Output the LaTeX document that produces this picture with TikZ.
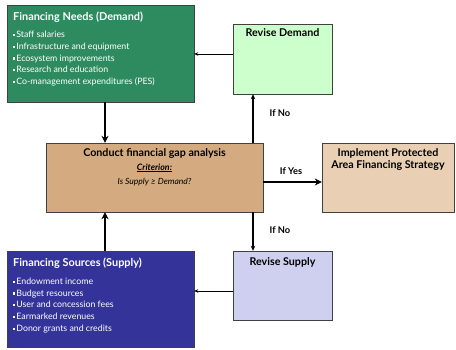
\documentclass[tikz,border=0pt]{standalone}
\usepackage{fontspec}
\setmainfont{Lato}
\usetikzlibrary{arrows.meta,calc}
\definecolor{needsgreen}{HTML}{2E8B5F}
\definecolor{revdgreen}{HTML}{CCFFCC}
\definecolor{gaptan}{HTML}{D4AB80}
\definecolor{impltan}{HTML}{E9CFB4}
\definecolor{supblue}{HTML}{333399}
\definecolor{revsblue}{HTML}{CFCFEF}
\definecolor{edgegray}{HTML}{404040}
\newcommand{\bul}{\rule[1.6pt]{2.2pt}{2.2pt}\hspace{1pt}}
\tikzset{
  box/.style={draw=edgegray, line width=0.9pt, inner sep=0pt},
  ttl/.style={font=\bfseries\fontsize{10.7}{12}\selectfont, anchor=base, inner sep=0pt},
  bigttl/.style={font=\bfseries\fontsize{10.9}{12}\selectfont, text=white, anchor=base west, inner sep=0pt},
  item/.style={font=\fontsize{8.8}{10}\selectfont, text=white, anchor=base west, inner sep=0pt},
  thin/.style={line width=0.9pt, -{Stealth[length=4pt,width=3.5pt]}},
  mid/.style={line width=1.3pt, -{Stealth[length=5pt,width=4.5pt]}},
  thick/.style={line width=2.4pt, -{Stealth[length=7pt,width=7pt]}},
  lbl/.style={font=\bfseries\fontsize{9.3}{10}\selectfont, anchor=base, inner sep=0pt}
}
\begin{document}
\begin{tikzpicture}[x=1pt,y=-1pt]
\useasboundingbox (0,0) rectangle (456,349);
% boxes
\draw[box, fill=needsgreen] (7,5) rectangle (194,102);
\node[inner sep=0pt, minimum width=187pt, minimum height=97pt] (needs) at (100.5,53.5) {};
\draw[box, fill=revdgreen] (233,24) rectangle (332,94);
\node[inner sep=0pt, minimum width=99pt, minimum height=70pt] (revd) at (282.5,59) {};
\draw[box, fill=gaptan] (46,143) rectangle (263,212);
\node[inner sep=0pt, minimum width=217pt, minimum height=69pt] (gap) at (154.5,177.5) {};
\draw[box, fill=impltan] (322,143) rectangle (454,212);
\node[inner sep=0pt, minimum width=132pt, minimum height=69pt] (impl) at (388,177.5) {};
\draw[box, fill=revsblue] (233,251) rectangle (332,320);
\node[inner sep=0pt, minimum width=99pt, minimum height=69pt] (revs) at (282.5,285.5) {};
\draw[box, fill=supblue] (7,251) rectangle (194,347);
\node[inner sep=0pt, minimum width=187pt, minimum height=96pt] (sup) at (100.5,299) {};
% texts
\node[bigttl] (t1) at (13,20) {Financing Needs (Demand)};
\node[item] (i1) at (13,37.5) {\bul Staff salaries};
\node[item] (i2) at (13,49.3) {\bul Infrastructure and equipment};
\node[item] (i3) at (13,61.1) {\bul Ecosystem improvements};
\node[item] (i4) at (13,72.9) {\bul Research and education};
\node[item] (i5) at (13,84.7) {\bul Co-management expenditures (PES)};
\node[bigttl] (t2) at (13,266) {Financing Sources (Supply)};
\node[item] (j1) at (13,284.5) {\bul Endowment income};
\node[item] (j2) at (13,296.2) {\bul Budget resources};
\node[item] (j3) at (13,307.9) {\bul User and concession fees};
\node[item] (j4) at (13,319.6) {\bul Earmarked revenues};
\node[item] (j5) at (13,331.3) {\bul Donor grants and credits};
\node[ttl] (t3) at (282.5,36.7) {Revise Demand};
\node[ttl] (t4) at (282.5,265) {Revise Supply};
\node[ttl] (t5) at (154.5,156.7) {Conduct financial gap analysis};
\node[anchor=base, inner sep=0pt, font=\bfseries\itshape\fontsize{8.8}{10}\selectfont] (t6) at (154.5,170) {\underline{Criterion:}};
\node[anchor=base, inner sep=0pt, font=\itshape\fontsize{8.5}{10}\selectfont] (t7) at (154.5,184) {Is Supply ≥ Demand?};
\node[ttl] (t8) at (388,156.7) {Implement Protected};
\node[ttl] (t9) at (388,168.3) {Area Financing Strategy};
\node[lbl] (l1) at (291,174.3) {If Yes};
\node[lbl] (l2) at (280,116) {If No};
\node[lbl] (l3) at (280,233.3) {If No};
% connectors
\coordinate (xa) at (253,0);
\coordinate (xb) at (105,0);
\coordinate (ya) at (0,182);
\draw[thin] ([yshift=5pt]revd.west) -- ([yshift=5pt]revd.west -| needs.east);
\draw[thin] ([yshift=-5.5pt]revs.west) -- ([yshift=-5.5pt]revs.west -| sup.east);
\draw[mid] (gap.north -| xa) -- (revd.south -| xa);
\draw[mid] (gap.south -| xa) -- (revs.north -| xa);
\draw[thick] (needs.south -| xb) -- (gap.north -| xb);
\draw[thick] (sup.north -| xb) -- (gap.south -| xb);
\draw[thick] (gap.east |- ya) -- (impl.west |- ya);
\end{tikzpicture}
\end{document}
